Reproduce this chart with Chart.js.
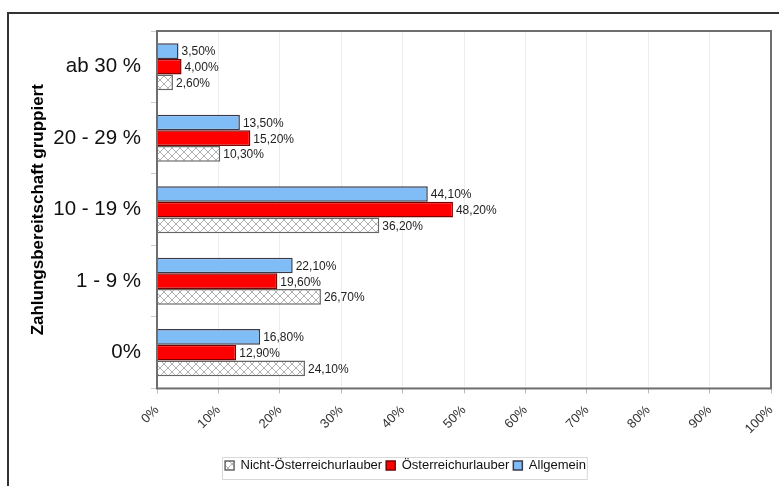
<!DOCTYPE html>
<html>
<head>
<meta charset="utf-8">
<script src="https://cdn.jsdelivr.net/npm/chart.js@4"></script>
<style>
  body { margin: 0; background: #fff; }
  #wrap { width: 779px; height: 486px; }
</style>
</head>
<body>
<div id="wrap"><canvas id="chart" width="779" height="486"></canvas></div>
<script>
// categories, top to bottom
const categories = ['ab 30 %', '20 - 29 %', '10 - 19 %', '1 - 9 %', '0%'];

// series values in percent
const allgemein = [3.5, 13.5, 44.1, 22.1, 16.8];
const oesterreich = [4.0, 15.2, 48.2, 19.6, 12.9];
const nichtOesterreich = [2.6, 10.3, 36.2, 26.7, 24.1];

const xTicks = [0, 10, 20, 30, 40, 50, 60, 70, 80, 90, 100];

const FONT = '"Liberation Sans", Arial, sans-serif';

// cross hatch pattern for the grey series
function makeHatch() {
    const c = document.createElement('canvas');
    c.width = 8;
    c.height = 8;
    const g = c.getContext('2d');
    g.fillStyle = '#ffffff';
    g.fillRect(0, 0, 8, 8);
    g.strokeStyle = '#b0b0b0';
    g.lineWidth = 1;
    g.beginPath();
    g.moveTo(0, 0); g.lineTo(8, 8);
    g.moveTo(8, 0); g.lineTo(0, 8);
    g.stroke();
    return g.createPattern(c, 'repeat');
}

const fmt = v => v.toFixed(2).replace('.', ',') + '%';

const LEGEND_SHIFT = 20;

// frame around the whole picture, box round the plot and legend
const framePlugin = {
    id: 'frame',
    afterLayout(chart) {
        // legend sits a bit right of centre in the original
        const l = chart.legend;
        l.left += LEGEND_SHIFT;
        l.right += LEGEND_SHIFT;
    },
    beforeDraw(chart) {
        const ctx = chart.ctx;
        ctx.save();
        ctx.strokeStyle = '#333';
        ctx.lineWidth = 2;
        ctx.beginPath();
        ctx.moveTo(8, 490);
        ctx.lineTo(8, 13);
        ctx.lineTo(790, 13);
        ctx.stroke();
        ctx.restore();
    },
    afterDraw(chart) {
        const ctx = chart.ctx;
        const a = chart.chartArea;
        ctx.save();
        ctx.strokeStyle = '#6e6e6e';
        ctx.lineWidth = 2;
        ctx.strokeRect(a.left, a.top, a.right - a.left, a.bottom - a.top);
        const l = chart.legend;
        if (l && l.lineWidths) {
            const w = l.lineWidths[0];
            const cx = (l.left + l.right) / 2;
            ctx.strokeStyle = '#d8d8d8';
            ctx.lineWidth = 1;
            ctx.strokeRect(Math.round(cx - w / 2) - 0.5, Math.round(l.top) + 2.5, w, l.bottom - l.top - 5);
        }
        ctx.restore();
    }
};

// value labels at the bar ends
const labelPlugin = {
    id: 'valueLabels',
    afterDatasetsDraw(chart) {
        const ctx = chart.ctx;
        ctx.save();
        ctx.font = '12px ' + FONT;
        ctx.fillStyle = '#222';
        ctx.textAlign = 'left';
        ctx.textBaseline = 'middle';
        chart.data.datasets.forEach((ds, i) => {
            chart.getDatasetMeta(i).data.forEach((bar, j) => {
                ctx.fillText(fmt(ds.data[j]), bar.x + 3, bar.y + 1);
            });
        });
        ctx.restore();
    }
};

new Chart(document.getElementById('chart'), {
    type: 'bar',
    data: {
        labels: categories,
        datasets: [
            {
                label: 'Allgemein',
                data: allgemein,
                backgroundColor: '#80bdf7',
                borderColor: '#3a3a4a',
                borderWidth: 1.5
            },
            {
                label: 'Österreichurlauber',
                data: oesterreich,
                backgroundColor: '#ff0000',
                borderColor: '#7a0000',
                borderWidth: 1.5
            },
            {
                label: 'Nicht-Österreichurlauber',
                data: nichtOesterreich,
                backgroundColor: makeHatch(),
                borderColor: '#666',
                borderWidth: 1.5
            }
        ]
    },
    options: {
        indexAxis: 'y',
        responsive: false,
        animation: false,
        categoryPercentage: 0.66,
        barPercentage: 1.0,
        layout: { padding: { left: 0, top: 31, right: 8, bottom: 4 } },
        scales: {
            x: {
                min: 0,
                max: 100,
                afterBuildTicks(axis) {
                    axis.ticks = xTicks.map(v => ({ value: v }));
                },
                afterFit(axis) {
                    axis.height += 9;
                    axis.paddingRight = 0;
                    axis.paddingLeft = 0;
                },
                ticks: {
                    callback: v => v + '%',
                    minRotation: 45,
                    maxRotation: 45,
                    color: '#333',
                    padding: 9,
                    font: { family: FONT, size: 13 }
                },
                grid: { color: '#eeeeee', tickLength: 5, tickColor: '#bbb' },
                border: { display: false }
            },
            y: {
                afterFit(axis) { axis.width = 157; },
                ticks: {
                    color: '#111',
                    padding: 10,
                    font: { family: FONT, size: 20.5 }
                },
                grid: { offset: true, drawOnChartArea: false, tickLength: 6, color: '#ccc' },
                border: { display: false },
                title: {
                    display: true,
                    text: 'Zahlungsbereitschaft gruppiert',
                    color: '#000',
                    padding: { top: 28, bottom: 0 },
                    font: { family: FONT, size: 17, weight: 'bold' }
                }
            }
        },
        plugins: {
            legend: {
                position: 'bottom',
                reverse: true,
                labels: {
                    boxWidth: 9,
                    boxHeight: 9,
                    padding: 4,
                    color: '#111',
                    font: { family: FONT, size: 13 }
                }
            },
            tooltip: { enabled: false }
        }
    },
    plugins: [framePlugin, labelPlugin]
});
</script>
</body>
</html>
